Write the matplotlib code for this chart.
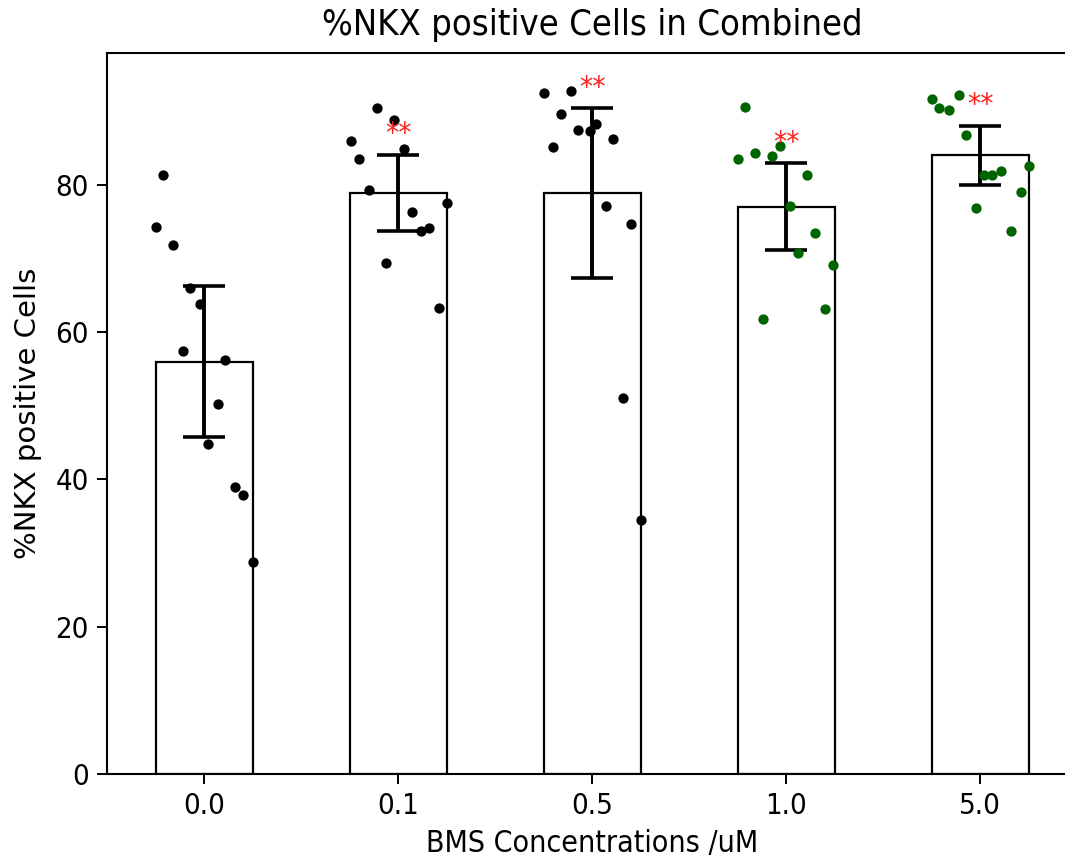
import matplotlib
matplotlib.use("Agg")
import matplotlib.pyplot as plt
import numpy as np

plt.rcParams["font.family"] = ["DejaVu Sans Condensed", "DejaVu Sans"]
plt.rcParams["font.stretch"] = "condensed"

groups = ["0.0", "0.1", "0.5", "1.0", "5.0"]
means = [56.0, 78.9, 78.9, 77.0, 84.0]
errs = [10.3, 5.2, 11.5, 5.9, 4.0]
dot_colors = ["black", "black", "black", "darkgreen", "darkgreen"]
stars = ["", "**", "**", "**", "**"]

# individual wells, per group: value and horizontal jitter
vals = [
    [81.4, 74.3, 71.8, 66.0, 63.8, 57.5, 56.2, 50.3, 44.8, 39.0, 37.9, 28.8],
    [90.4, 88.8, 85.9, 83.5, 84.8, 79.3, 77.6, 76.3, 73.7, 74.2, 69.4, 63.3],
    [92.5, 92.8, 89.6, 87.5, 87.3, 88.3, 85.1, 86.2, 77.1, 74.7, 51.0, 34.5],
    [90.6, 83.5, 84.3, 83.9, 85.3, 81.4, 77.1, 73.4, 70.8, 69.1, 63.1, 61.8],
    [91.7, 92.2, 90.4, 90.1, 86.7, 81.4, 81.4, 81.9, 82.6, 79.0, 76.9, 73.7],
]
jitter = [
    [-0.21, -0.25, -0.16, -0.07, -0.02, -0.11, 0.11, 0.07, 0.02, 0.16, 0.20, 0.25],
    [-0.11, -0.02, -0.24, -0.20, 0.03, -0.15, 0.25, 0.07, 0.12, 0.16, -0.06, 0.21],
    [-0.25, -0.11, -0.16, -0.07, -0.01, 0.02, -0.20, 0.11, 0.07, 0.20, 0.16, 0.25],
    [-0.21, -0.25, -0.16, -0.07, -0.03, 0.11, 0.02, 0.15, 0.06, 0.24, 0.20, -0.12],
    [-0.25, -0.11, -0.21, -0.16, -0.07, 0.02, 0.06, 0.11, 0.25, 0.21, -0.02, 0.16],
]

fig = plt.figure(figsize=(10.65, 8.57), dpi=100)
ax = fig.add_axes([107 / 1065, 83 / 857, 970 / 1065, 721 / 857])

x = np.arange(len(groups))
ax.bar(x, means, width=0.5, color="white", edgecolor="black", linewidth=1.6, zorder=1)
ax.errorbar(x, means, yerr=errs, fmt="none", ecolor="black", elinewidth=2.8,
            capsize=15, capthick=2.6, zorder=3)

for i in range(len(groups)):
    ax.scatter(x[i] + np.array(jitter[i]), vals[i], s=55, color=dot_colors[i],
               zorder=4, linewidths=0)
    if stars[i]:
        ax.text(x[i], means[i] + errs[i] + 0.9, stars[i], color="#ff2020",
                ha="center", va="bottom", fontsize=21, zorder=5)

ax.set_xlim(-0.5, 4.5)
ax.set_ylim(0, 97.9)
ax.set_xticks(x)
ax.set_xticklabels(groups)
ax.set_yticks([0, 20, 40, 60, 80])
ax.tick_params(labelsize=21, width=1.4, length=7, pad=6)
for s in ax.spines.values():
    s.set_linewidth(1.5)

ax.set_xlabel("BMS Concentrations /uM", fontsize=21.7, labelpad=6.5)
ax.set_ylabel("%NKX positive Cells", fontsize=21, labelpad=10,
              family="DejaVu Sans", stretch="normal")
ax.set_title("%NKX positive Cells in Combined", fontsize=26, pad=13)

plt.savefig("out.png", dpi=100)
